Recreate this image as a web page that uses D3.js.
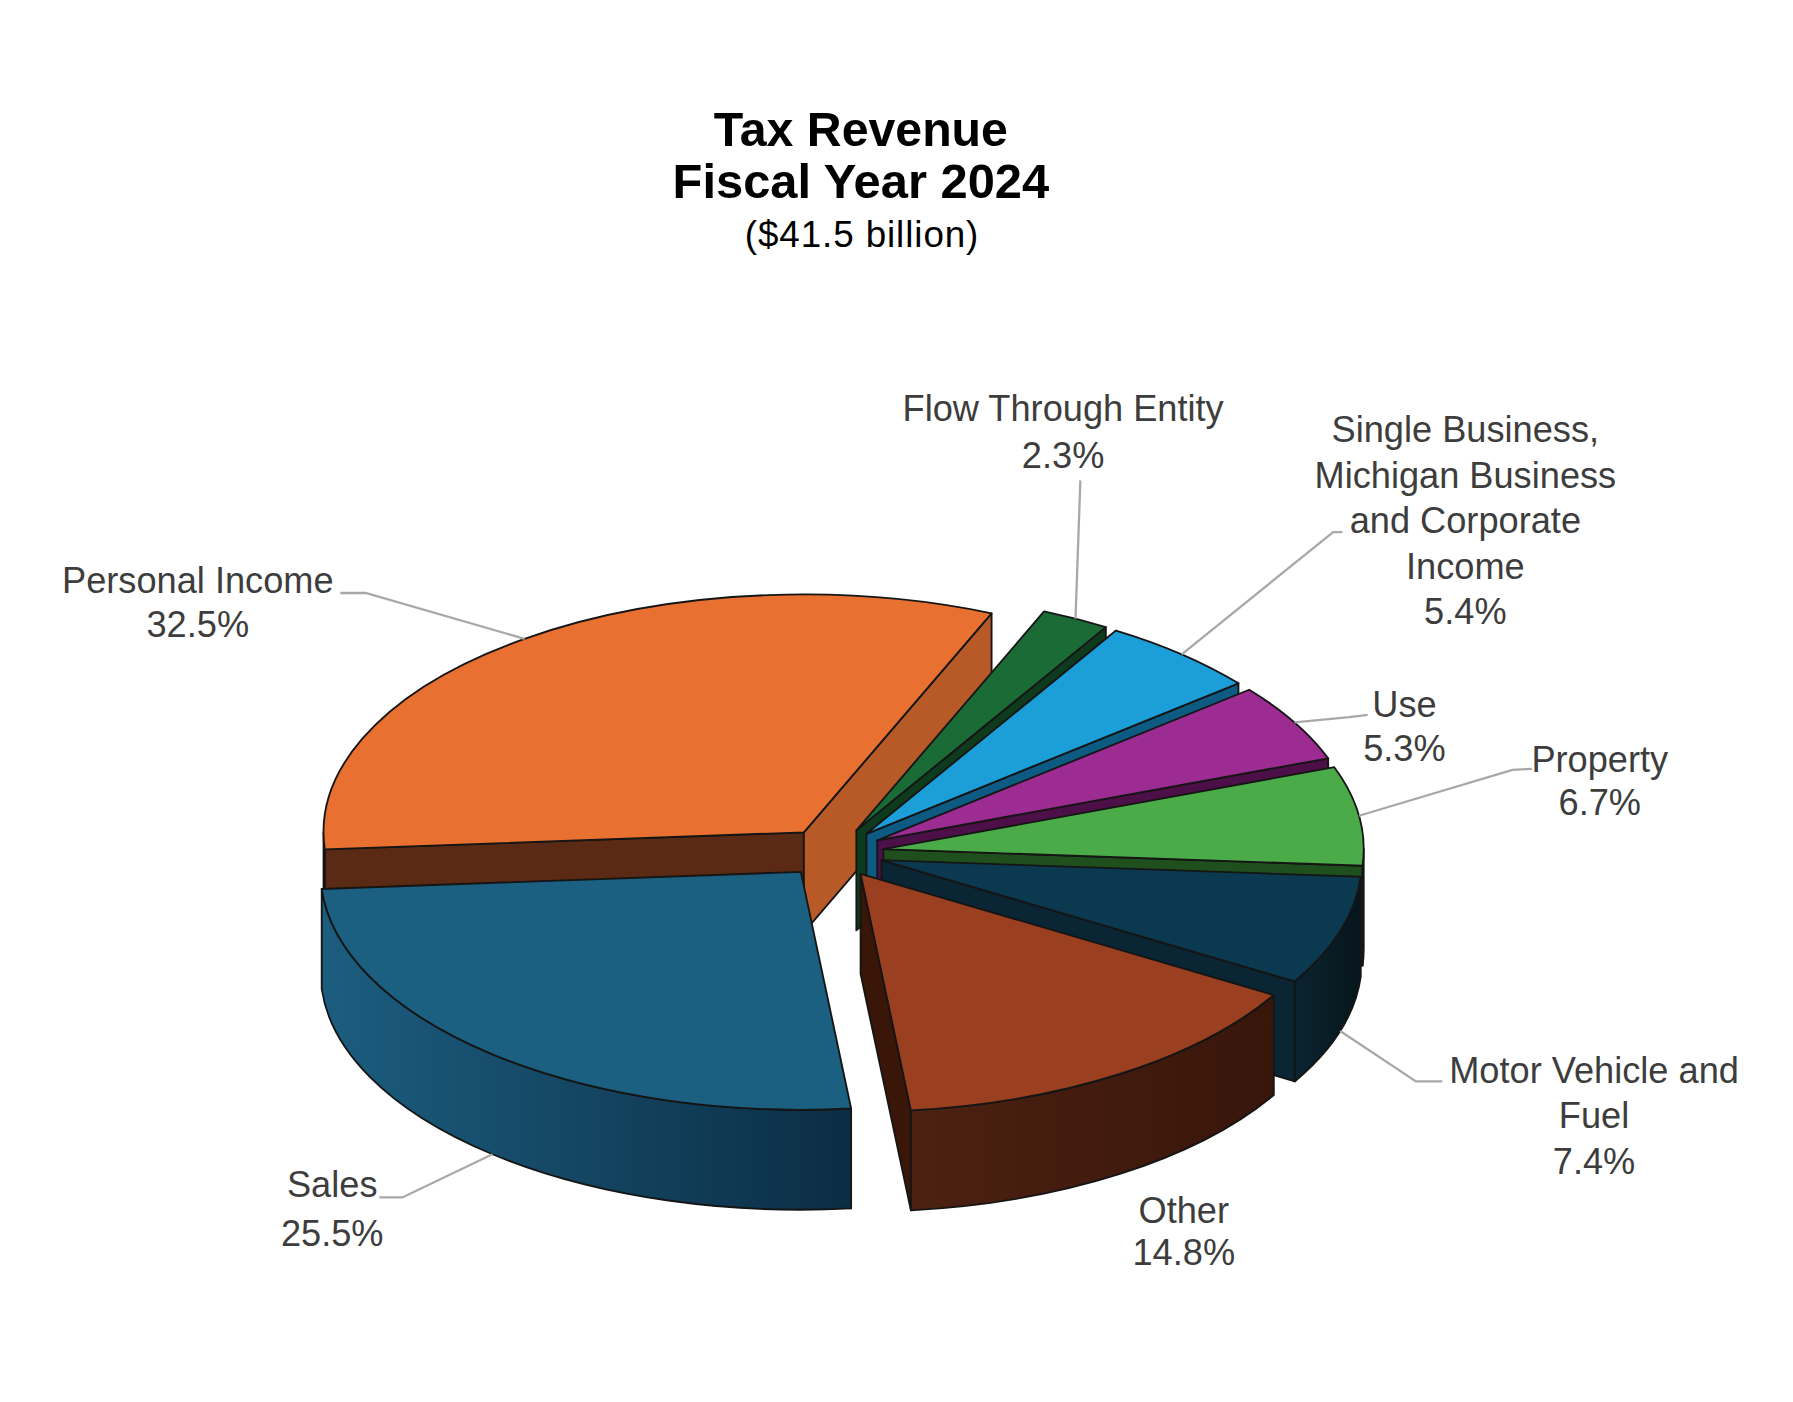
<!DOCTYPE html>
<html>
<head>
<meta charset="utf-8">
<script src="https://cdnjs.cloudflare.com/ajax/libs/d3/7.8.5/d3.min.js"></script>
<style>
  html, body { margin: 0; padding: 0; background: #fff; }
  svg { display: block; }
  .title { font-family: "Liberation Sans", Arial, sans-serif; fill: #000; text-anchor: middle; }
  .label { font-family: "Liberation Sans", Arial, sans-serif; font-size: 31.5px; fill: #3d3d3d; text-anchor: middle; }
  .leader { fill: none; stroke: #a8a8a8; stroke-width: 2; }
  .edge { stroke: #151515; stroke-width: 1.6; stroke-linejoin: round; }
</style>
</head>
<body>
<div id="chart"></div>
<script>
// data, clockwise from the top
var categories = ["Flow Through Entity", "Single Business", "Use", "Property",
  "Motor Vehicle and Fuel", "Other", "Sales", "Personal Income"];
var shares = [2.3, 5.4, 5.3, 6.7, 7.4, 14.8, 25.5, 32.5];
var nameLines = [
  ["Flow Through  Entity"],
  ["Single Business,", "Michigan Business", "and Corporate", "Income"],
  ["Use"],
  ["Property"],
  ["Motor Vehicle and", "Fuel"],
  ["Other"],
  ["Sales"],
  ["Personal Income"]
];
var titleLines = ["Tax Revenue", "Fiscal Year 2024"];
var subtitle = "($41.5 billion)";

// colours per slice (top, side light, side dark, wall)
var topColors  = ["#1b6b37", "#1c9fd9", "#9c2b92", "#4aab48", "#0b3a50", "#9a4020", "#1b6080", "#e87030"];
var sideLight  = ["#14512a", "#126f9a", "#6a1d63", "#2f7a2d", "#0a2430", "#4c2112", "#1c5d7f", "#5e2b14"];
var sideDark   = ["#0e3a1d", "#0c5a80", "#4a0f45", "#1e5a1c", "#06151b", "#38160a", "#0b2d44", "#4c220f"];
var wallColors = ["#0e3a1d", "#0d5b82", "#4d0f48", "#1f4f1d", "#0a2533", "#3a1609", "#123f58", "#5b2a14"];
var endWallPI = "#b85a28";

// layout is in a 1560x1220 box, scaled up to the window
var svgWidth = 1560, svgHeight = 1220;
var cx = 725, cy = 742, rx = 418, ry = 207, depth = 87, explode = 44;
var startDeg = 23;

var labelAt = [
  {x: 925,  y: 366,  lh: 41,   from: [940, 418],  elbow: null},
  {x: 1275, y: 385,  lh: 39.5, from: [1168, 463], elbow: [1160, 463]},
  {x: 1222, y: 624,  lh: 38,   from: [1190, 622], elbow: [1174, 624]},
  {x: 1392, y: 672,  lh: 37,   from: [1333, 669], elbow: [1316, 670]},
  {x: 1387, y: 942,  lh: 40,   from: [1255, 941], elbow: [1232, 941]},
  {x: 1030, y: 1064, lh: 37,   from: null,        elbow: null},
  {x: 289,  y: 1042, lh: 42,   from: [330, 1042], elbow: [350, 1042]},
  {x: 172,  y: 516,  lh: 38,   from: [296, 516],  elbow: [318, 516]}
];

var svg = d3.select("#chart")
  .append("svg")
  .attr("width", 1793)
  .attr("height", 1402)
  .attr("viewBox", `0 0 ${svgWidth} ${svgHeight}`);

var defs = svg.append("defs");

// title
svg.append("text").attr("class", "title")
  .attr("x", 749).attr("y", 127)
  .style("font-size", "42px").style("font-weight", "bold")
  .text(titleLines[0]);
svg.append("text").attr("class", "title")
  .attr("x", 749).attr("y", 172)
  .style("font-size", "42.5px").style("font-weight", "bold")
  .text(titleLines[1]);
svg.append("text").attr("class", "title")
  .attr("x", 750).attr("y", 215)
  .style("font-size", "32px").style("letter-spacing", "0.8px")
  .text(subtitle);

var a0 = startDeg * Math.PI / 180;
var pie = d3.pie().sort(null).value(d => d).startAngle(a0).endAngle(a0 + 2 * Math.PI);
var arcs = pie(shares);

function offset(d) {
  var m = (d.startAngle + d.endAngle) / 2;
  return [explode * Math.sin(m), -explode * (ry / rx) * Math.cos(m)];
}
// point on the exploded slice: angle t, radius fraction r, z 0 = top, 1 = bottom
function P(d, t, r, z) {
  var o = offset(d);
  return [cx + o[0] + r * rx * Math.sin(t), cy + o[1] - r * ry * Math.cos(t) + z * depth];
}
function pt(p) { return p[0].toFixed(2) + "," + p[1].toFixed(2); }

function topPath(d) {
  var large = (d.endAngle - d.startAngle) > Math.PI ? 1 : 0;
  return "M" + pt(P(d, d.startAngle, 0, 0)) + "L" + pt(P(d, d.startAngle, 1, 0)) +
    "A" + rx + "," + ry + " 0 " + large + " 1 " + pt(P(d, d.endAngle, 1, 0)) + "Z";
}
function wallPath(d, t) {
  return "M" + pt(P(d, t, 0, 0)) + "L" + pt(P(d, t, 1, 0)) +
    "L" + pt(P(d, t, 1, 1)) + "L" + pt(P(d, t, 0, 1)) + "Z";
}
function sidePath(d) {
  // front half of the rim is where cos(t) < 0
  var lo = Math.max(d.startAngle, Math.PI / 2), hi = Math.min(d.endAngle, 3 * Math.PI / 2);
  if (hi <= lo) return null;
  return "M" + pt(P(d, lo, 1, 0)) + "A" + rx + "," + ry + " 0 0 1 " + pt(P(d, hi, 1, 0)) +
    "L" + pt(P(d, hi, 1, 1)) + "A" + rx + "," + ry + " 0 0 0 " + pt(P(d, lo, 1, 1)) + "Z";
}

// painter's order: the back slice first, the front slice last
function contains(d, t) {
  return (t >= d.startAngle && t < d.endAngle) || (t + 2 * Math.PI >= d.startAngle && t + 2 * Math.PI < d.endAngle);
}
var n = arcs.length;
var back = arcs.findIndex(d => contains(d, 0));
var front = arcs.findIndex(d => contains(d, Math.PI));
var order = [back];
for (var i = (back + 1) % n; i !== front; i = (i + 1) % n) order.push(i);
for (var j = (back - 1 + n) % n; j !== front && order.indexOf(j) < 0; j = (j - 1 + n) % n) order.push(j);
if (front !== back) order.push(front);

var pieGroup = svg.append("g");

order.forEach(function (i) {
  var d = arcs[i];
  var g = pieGroup.append("g");

  if (Math.sin(d.startAngle) < 0) {
    g.append("path").attr("class", "edge").attr("d", wallPath(d, d.startAngle)).attr("fill", wallColors[i]);
  }
  if (Math.sin(d.endAngle) > 0) {
    g.append("path").attr("class", "edge").attr("d", wallPath(d, d.endAngle))
      .attr("fill", i === 7 ? endWallPI : wallColors[i]);
  }
  var sp = sidePath(d);
  if (sp) {
    var grad = defs.append("linearGradient").attr("id", "side" + i)
      .attr("x1", 0).attr("x2", 1).attr("y1", 0).attr("y2", 0);
    grad.append("stop").attr("offset", "0%").attr("stop-color", sideLight[i]);
    grad.append("stop").attr("offset", "100%").attr("stop-color", sideDark[i]);
    g.append("path").attr("class", "edge").attr("d", sp).attr("fill", `url(#side${i})`);
  }
  g.append("path").attr("class", "edge").attr("d", topPath(d)).attr("fill", topColors[i]);
});

// labels and leader lines
arcs.forEach(function (d, i) {
  var L = labelAt[i];
  var m = (d.startAngle + d.endAngle) / 2;
  if (L.from) {
    var end = P(d, m, 1, Math.cos(m) < 0 ? 1 : 0);
    var pts = [L.from];
    if (L.elbow) pts.push(L.elbow);
    pts.push(end);
    svg.append("path").attr("class", "leader").attr("d", d3.line()(pts));
  }
  var lines = nameLines[i].concat([shares[i].toFixed(1) + "%"]);
  var t = svg.append("text").attr("class", "label");
  lines.forEach(function (s, k) {
    t.append("tspan").attr("x", L.x).attr("y", L.y + k * L.lh).text(s);
  });
});
</script>
</body>
</html>
